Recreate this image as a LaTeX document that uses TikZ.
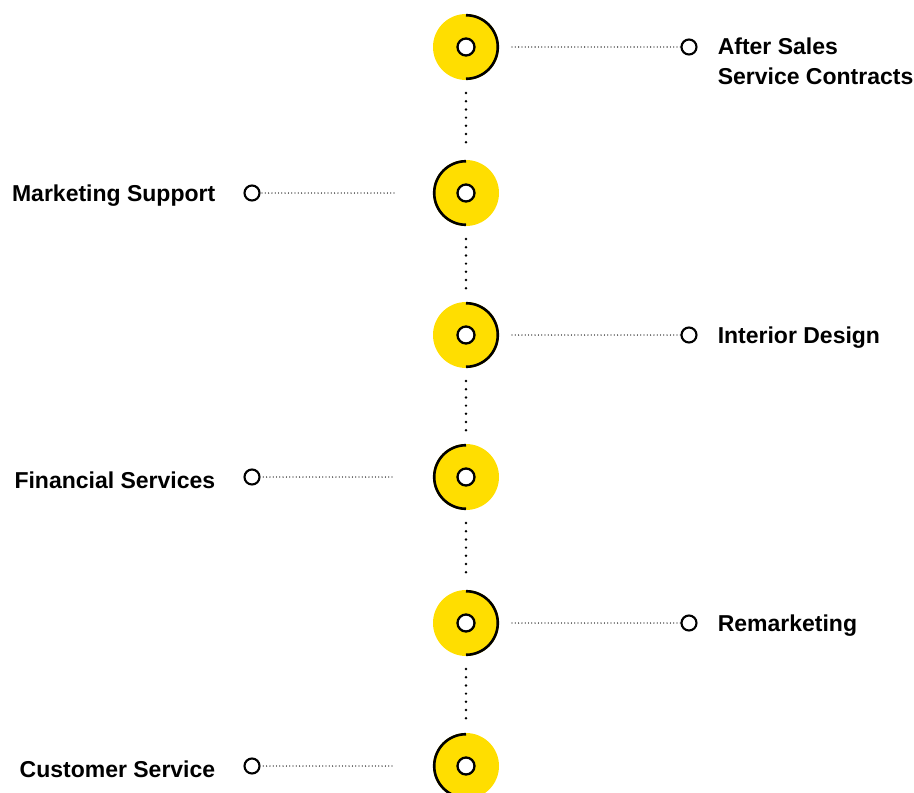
\documentclass[tikz,border=0pt]{standalone}
\usepackage{xcolor}
\usepackage{fontspec}
\setmainfont{Liberation Sans}
\usepackage{tikz}
\usetikzlibrary{positioning}
\definecolor{discyellow}{HTML}{FFDE00}

\begin{document}
\begin{tikzpicture}[x=1pt,y=1pt]
			\tikzstyle{disc}=[circle,fill=discyellow,minimum size=66pt,inner sep=0pt,outer sep=0pt]
			\tikzstyle{hub}=[circle,draw,fill=white,line width=2.3pt,minimum size=17pt,inner sep=0pt]
			\tikzstyle{pin}=[circle,draw,fill=white,line width=2.1pt,minimum size=15pt,inner sep=0pt]
			\tikzstyle{value}=[font=\fontsize{23}{30}\selectfont\bfseries,inner sep=0pt,yshift=-3pt]
			\tikzset{rim/.style = {line width=2.6pt}}
			\tikzset{vdot/.style = {line width=2.7pt,line cap=round,dash pattern=on 0pt off 8.2pt}}
			\tikzset{hdot/.style = {line width=1.3pt,line cap=round,dash pattern=on 0pt off 3.3pt}}
			
			\useasboundingbox (0,0) rectangle (914,-793);
			
			\node[disc](d1) at (466,-47) {};
			\node[disc](d2) at (466,-193) {};
			\node[disc](d3) at (466,-335) {};
			\node[disc](d4) at (466,-477) {};
			\node[disc](d5) at (466,-623) {};
			\node[disc](d6) at (466,-766) {};
			
			% half rims
			\foreach \d in {d1,d3,d5}
				\draw[rim] (\d.center) ++(0,31.8) arc[start angle=90,end angle=-90,radius=31.8];
			\foreach \d in {d2,d4,d6}
				\draw[rim] (\d.center) ++(0,31.8) arc[start angle=90,end angle=270,radius=31.8];
			\foreach \d in {d1,d2,d3,d4,d5,d6}
				\node[hub] at (\d.center) {};
			
			\node[pin](p1) at (689,-47) {};
			\node[pin](p2) at (252,-193) {};
			\node[pin](p3) at (689,-335) {};
			\node[pin](p4) at (252,-477) {};
			\node[pin](p5) at (689,-623) {};
			\node[pin](p6) at (252,-766) {};
			
			\node[value,anchor=north west,align=left](t1) at ([xshift=20pt,yshift=12pt]p1.east) {After Sales\\Service Contracts};
			\node[value,left=28pt of p2](t2) {Marketing Support};
			\node[value,right=20pt of p3](t3) {Interior Design};
			\node[value,left=28pt of p4](t4) {Financial Services};
			\node[value,right=20pt of p5](t5) {Remarketing};
			\node[value,left=28pt of p6](t6) {Customer Service};
			
			\draw[hdot,shorten <=13pt] (d1) -- (p1);
			\draw[hdot,shorten <=13pt] (d3) -- (p3);
			\draw[hdot,shorten <=13pt] (d5) -- (p5);
			\draw[hdot,shorten <=39pt] (d2) -- (p2);
			\draw[hdot,shorten <=41pt] (d4) -- (p4);
			\draw[hdot,shorten <=41pt] (d6) -- (p6);
			
			\draw[vdot,shorten <=13pt,shorten >=10pt] (d1) -- (d2);
			\draw[vdot,shorten <=13pt,shorten >=10pt] (d2) -- (d3);
			\draw[vdot,shorten <=13pt,shorten >=10pt] (d3) -- (d4);
			\draw[vdot,shorten <=13pt,shorten >=10pt] (d4) -- (d5);
			\draw[vdot,shorten <=13pt,shorten >=10pt] (d5) -- (d6);
\end{tikzpicture}
\end{document}
